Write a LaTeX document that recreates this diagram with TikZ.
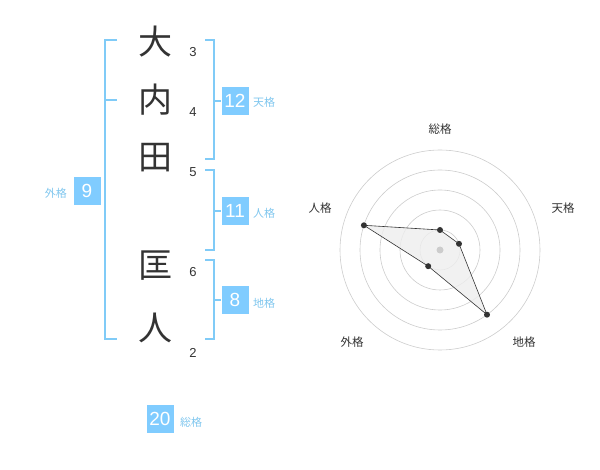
\documentclass[tikz,border=0pt]{standalone}
\usepackage{fontspec}
\setmainfont{Noto Sans CJK JP}
\newfontfamily\numfont{Liberation Sans}
\definecolor{bracketblue}{HTML}{80CBF7}
\definecolor{boxblue}{HTML}{80CCFF}
\definecolor{lblblue}{HTML}{7FC6EE}
\definecolor{inkdark}{HTML}{333333}
\definecolor{ringgray}{HTML}{CCCCCC}
\definecolor{areagray}{HTML}{EEEEEE}
\tikzset{
  kanji/.style={font=\fontsize{34}{34}\selectfont, text=inkdark, inner sep=0pt},
  strk/.style={font=\numfont\fontsize{13}{13}\selectfont, text=inkdark, inner sep=0pt},
  brk/.style={draw=bracketblue, line width=1.3pt},
  numbox/.style={fill=boxblue, text=white, minimum width=27pt, minimum height=28pt, inner sep=0pt, font=\numfont\fontsize{19}{19}\selectfont},
  kaku/.style={text=lblblue, font=\fontsize{11}{11}\selectfont, inner sep=0pt},
  axlbl/.style={text=inkdark, font=\fontsize{11.5}{11.5}\selectfont, inner sep=0pt},
  ring/.style={draw=ringgray, line width=0.6pt},
  dot/.style={circle, fill=inkdark, inner sep=0pt, minimum size=6pt},
}
\begin{document}
\begin{tikzpicture}[x=1pt,y=-1pt]
\useasboundingbox (0,0) rectangle (600,470);
% kanji
\node[kanji] (k1) at (155,42) {大};
\node[kanji] (k2) at (155,100) {内};
\node[kanji] (k3) at (155,158) {田};
\node[kanji] (k4) at (155,266) {匡};
\node[kanji] (k5) at (155,328) {人};
\node[strk] (s1) at (193,52) {3};
\node[strk] (s2) at (193,112) {4};
\node[strk] (s3) at (193,172) {5};
\node[strk] (s4) at (193,272) {6};
\node[strk] (s5) at (193,353) {2};
% left bracket (外格)
\draw[brk] (117,40) -- (105,40) -- (105,339) -- (117,339);
\draw[brk] (105,100) -- (117,100);
\node[numbox] (b9) at (87,191) {9};
\node[kaku, anchor=east] (g) at (67,193) {外格};
% right bracket 天格
\draw[brk] (205,40) -- (214,40) -- (214,159) -- (205,159);
\node[numbox] (b12) at (235,101) {12};
\draw[brk] (214,101) -- (b12.west);
\node[kaku, anchor=west] (t) at (253,102) {天格};
% right bracket 人格
\draw[brk] (205,170) -- (214,170) -- (214,250) -- (205,250);
\node[numbox] (b11) at (235,211) {11};
\draw[brk] (214,211) -- (b11.west);
\node[kaku, anchor=west] (j) at (253,213) {人格};
% right bracket 地格
\draw[brk] (205,260) -- (214,260) -- (214,339) -- (205,339);
\node[numbox] (b8) at (235,300) {8};
\draw[brk] (214,300) -- (b8.west);
\node[kaku, anchor=west] (c) at (253,303) {地格};
% total
\node[numbox] (b20) at (160,419) {20};
\node[kaku, anchor=west] (s) at (180,422) {総格};
% radar
\coordinate (ctr) at (440,250);
\foreach \r in {20,40,60,80,100} \draw[ring] (ctr) circle[radius=\r pt];
\coordinate (p1) at (440,230);
\coordinate (p2) at (459.0,243.8);
\coordinate (p3) at (487.0,314.7);
\coordinate (p4) at (428.2,266.2);
\coordinate (p5) at (363.9,225.3);
\fill[areagray, opacity=0.8] (p1) -- (p2) -- (p3) -- (p4) -- (p5) -- cycle;
\fill[ringgray] (ctr) circle[radius=3.5pt];
\draw[inkdark, line width=0.6pt] (p1) -- (p2) -- (p3) -- (p4) -- (p5) -- cycle;
\foreach \p in {p1,p2,p3,p4,p5} \node[dot] at (\p) {};
\node[axlbl] (a1) at (440,129) {総格};
\node[axlbl] (a2) at (563,208) {天格};
\node[axlbl] (a3) at (524,342) {地格};
\node[axlbl] (a4) at (352,342) {外格};
\node[axlbl] (a5) at (320,208) {人格};
\end{tikzpicture}
\end{document}
